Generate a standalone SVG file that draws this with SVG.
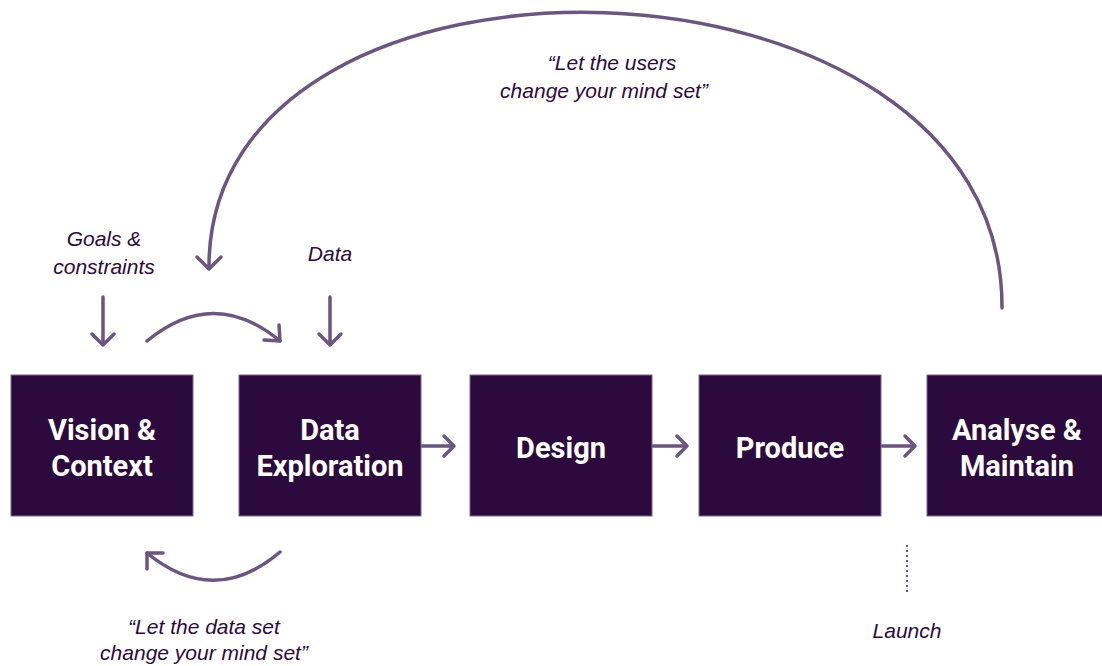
<svg xmlns="http://www.w3.org/2000/svg" width="1102" height="666" viewBox="0 0 1102 666">
<style>
.box{fill:#2d0a3d;stroke:#7a6690;stroke-width:1}
.bt{font-family:Roboto,"Liberation Sans",sans-serif;font-weight:700;font-size:29px;fill:#ffffff;text-anchor:middle}
.lab{font-family:"Liberation Sans",Arial,sans-serif;font-style:italic;font-size:21px;fill:#2d0a3d;text-anchor:middle}
.c{fill:none;stroke:#6b5680;stroke-width:3.5;stroke-linecap:round;stroke-linejoin:round}
.d{fill:none;stroke:#6b5680;stroke-width:2;stroke-dasharray:2 3}
</style>
<rect width="1102" height="666" fill="#ffffff"/>
<g id="connectors">
<path class="c" d="M1002,308 C1004,-70 207,-88 209,268"/>
<path class="c" d="M197,257 L209,269 L221,257"/>
<path class="c" d="M103,297 V345 M92,334 L103,345 L114,334"/>
<path class="c" d="M330,297 V345 M319,334 L330,345 L341,334"/>
<path class="c" d="M147,341 Q214,286 280,341"/>
<path class="c" d="M264,340 L280,341 L279,325"/>
<path class="c" d="M280,552 Q214,608 147,553"/>
<path class="c" d="M163,553 L147,553 L147,569"/>
<path class="c" d="M422,446 H454 M444,436 L454,446 L444,456"/>
<path class="c" d="M653,446 H687 M677,436 L687,446 L677,456"/>
<path class="c" d="M882,446 H915 M905,436 L915,446 L905,456"/>
<path class="d" d="M907,545 V592"/>
</g>
<g id="vision">
<rect class="box" x="11" y="375" width="182" height="141"/>
<text class="bt" x="102" y="440">Vision &amp;</text>
<text class="bt" x="102" y="476">Context</text>
</g>
<g id="exploration">
<rect class="box" x="239" y="375" width="182" height="141"/>
<text class="bt" x="330" y="440">Data</text>
<text class="bt" x="330" y="476">Exploration</text>
</g>
<g id="design">
<rect class="box" x="470" y="375" width="182" height="141"/>
<text class="bt" x="561" y="458">Design</text>
</g>
<g id="produce">
<rect class="box" x="699" y="375" width="182" height="141"/>
<text class="bt" x="790" y="458">Produce</text>
</g>
<g id="analyse">
<rect class="box" x="927" y="375" width="180" height="141"/>
<text class="bt" x="1017" y="440">Analyse &amp;</text>
<text class="bt" x="1017" y="476">Maintain</text>
</g>
<g id="labels">
<text class="lab" x="104" y="246">Goals &amp;</text>
<text class="lab" x="104" y="274">constraints</text>
<text class="lab" x="330" y="261">Data</text>
<text class="lab" x="612" y="70">“Let the users</text>
<text class="lab" x="604" y="98">change your mind set”</text>
<text class="lab" x="204" y="634">“Let the data set</text>
<text class="lab" x="204" y="660">change your mind set”</text>
<text class="lab" x="907" y="638">Launch</text>
</g>
</svg>
